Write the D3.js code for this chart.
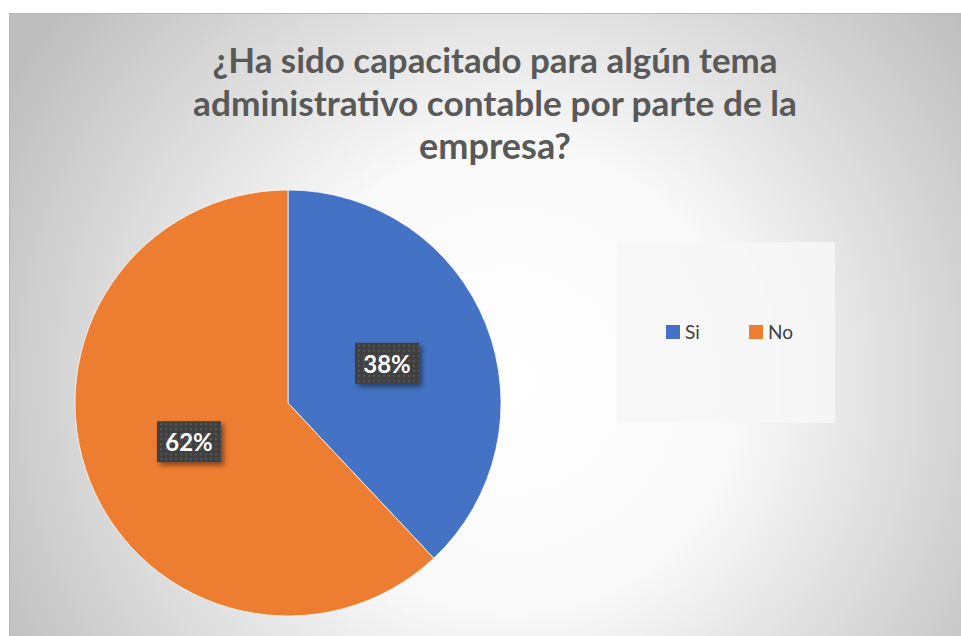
<!DOCTYPE html>
<html>
<head>
<meta charset="utf-8">
<script src="https://cdn.jsdelivr.net/npm/d3@7"></script>
<style>
  html, body { margin:0; padding:0; background:#fff; overflow:hidden; }
  svg { display:block; }
  text { font-family: Lato, "Open Sans", sans-serif; }
</style>
</head>
<body>
<svg id="chart" width="961" height="636"></svg>
<script>
// data
const categories = ["Si", "No"];
const values     = [38, 62];
const colors     = ["#4472C4", "#ED7D31"];
const titleLines = ["¿Ha sido capacitado para algún tema",
                    "administrativo contable por parte de la",
                    "empresa?"];

const svg = d3.select("#chart");
const W = 961, H = 636;

const defs = svg.append("defs");

// radial background like excel "gradient fill"
const rg = defs.append("radialGradient")
  .attr("id","bg").attr("gradientUnits","userSpaceOnUse")
  .attr("cx",510).attr("cy",380).attr("r",580);
rg.append("stop").attr("offset","0%").attr("stop-color","#ffffff");
rg.append("stop").attr("offset","40%").attr("stop-color","#f9f9f9");
rg.append("stop").attr("offset","100%").attr("stop-color","#bebebe");

// dotted pattern for data label boxes
const pat = defs.append("pattern")
  .attr("id","dots").attr("patternUnits","userSpaceOnUse")
  .attr("width",5).attr("height",5);
pat.append("rect").attr("width",5).attr("height",5).attr("fill","#3f3f3f");
pat.append("rect").attr("x",1).attr("y",1).attr("width",2).attr("height",2).attr("fill","#565656");

const shadow = defs.append("filter").attr("id","shadow")
  .attr("x","-30%").attr("y","-30%").attr("width","160%").attr("height","160%");
shadow.append("feDropShadow").attr("dx",3).attr("dy",3).attr("stdDeviation",2.5)
  .attr("flood-color","#000").attr("flood-opacity",0.45);

// chart area
svg.append("rect").attr("x",9).attr("y",13).attr("width",W).attr("height",H)
  .attr("fill","url(#bg)");
svg.append("line").attr("x1",9).attr("x2",W).attr("y1",13.5).attr("y2",13.5)
  .attr("stroke","#b8b8b8");
svg.append("line").attr("x1",9.5).attr("x2",9.5).attr("y1",13).attr("y2",H)
  .attr("stroke","#b8b8b8");

// title, each line fitted to the measured width of the picture
const titleY = [73, 116, 159];
const titleW = [565, 604, 152];
const tg = svg.append("g").attr("class","title");
titleLines.forEach((t,i)=>{
  const el = tg.append("text")
    .attr("x",495).attr("y",titleY[i])
    .attr("text-anchor","middle")
    .attr("font-weight","bold")
    .attr("font-size",28)
    .attr("fill","#595959")
    .text(t);
  const w = el.node().getComputedTextLength();
  el.attr("font-size", 28 * titleW[i] / w);
});

// pie
const cx = 288, cy = 403, R = 213;
const pie = d3.pie().sort(null).value(d=>d)(values);
const arc = d3.arc().innerRadius(0).outerRadius(R);
const labelArc = d3.arc().innerRadius(R*0.5).outerRadius(R*0.5);

const g = svg.append("g").attr("transform",`translate(${cx},${cy})`);
g.selectAll("path.slice")
  .data(pie)
  .enter().append("path")
  .attr("class","slice")
  .attr("d",arc)
  .attr("fill",(d,i)=>colors[i])
  .attr("stroke","#ffffff")
  .attr("stroke-width",0.75);

// data labels
const lab = g.selectAll("g.lab")
  .data(pie)
  .enter().append("g")
  .attr("class","lab")
  .attr("transform",d=>{ const [x,y]=labelArc.centroid(d); return `translate(${x},${y})`; });

lab.append("rect")
  .attr("x",-32).attr("y",-21).attr("width",64).attr("height",41)
  .attr("fill","url(#dots)")
  .attr("filter","url(#shadow)");

lab.append("text")
  .attr("text-anchor","middle")
  .attr("y",9)
  .attr("font-size",24)
  .attr("font-weight","bold")
  .attr("fill","#ffffff")
  .text(d=>d.value + "%");

// legend
svg.append("rect").attr("x",617).attr("y",242).attr("width",218).attr("height",181)
  .attr("fill","#f7f7f7").attr("fill-opacity",0.85);

const legX = [666, 749];
const leg = svg.append("g").attr("class","legend")
  .selectAll("g")
  .data(categories)
  .enter().append("g")
  .attr("transform",(d,i)=>`translate(${legX[i]},325)`);
leg.append("rect").attr("width",14).attr("height",14).attr("fill",(d,i)=>colors[i]);
leg.append("text").attr("x",19).attr("y",13.5)
  .attr("font-size",19).attr("fill","#404040")
  .text(d=>d);
</script>
</body>
</html>
